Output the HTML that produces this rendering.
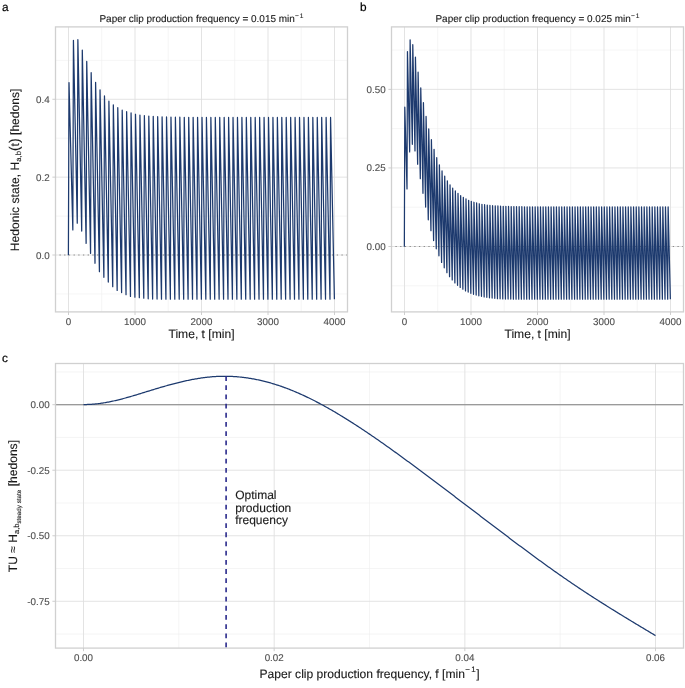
<!DOCTYPE html><html><head><meta charset="utf-8"><style>html,body{margin:0;padding:0;background:#fff}svg{display:block}</style></head><body><svg width="685" height="688" viewBox="0 0 685 688" font-family="Liberation Sans, sans-serif" text-rendering="geometricPrecision">
<rect width="685" height="688" fill="#fff"/>
<defs><filter id="bl" x="0" y="0" width="685" height="688" filterUnits="userSpaceOnUse" color-interpolation-filters="sRGB"><feGaussianBlur stdDeviation="0.35"/></filter></defs><g filter="url(#bl)"><rect width="685" height="688" fill="#fff"/>
<line x1="101.75" y1="26.9" x2="101.75" y2="311.9" stroke="#efefef" stroke-width="0.6"/>
<line x1="168.25" y1="26.9" x2="168.25" y2="311.9" stroke="#efefef" stroke-width="0.6"/>
<line x1="234.75" y1="26.9" x2="234.75" y2="311.9" stroke="#efefef" stroke-width="0.6"/>
<line x1="301.25" y1="26.9" x2="301.25" y2="311.9" stroke="#efefef" stroke-width="0.6"/>
<line x1="55.5" y1="293.93" x2="347.5" y2="293.93" stroke="#efefef" stroke-width="0.6"/>
<line x1="55.5" y1="216.07" x2="347.5" y2="216.07" stroke="#efefef" stroke-width="0.6"/>
<line x1="55.5" y1="138.21" x2="347.5" y2="138.21" stroke="#efefef" stroke-width="0.6"/>
<line x1="55.5" y1="60.35" x2="347.5" y2="60.35" stroke="#efefef" stroke-width="0.6"/>
<line x1="68.5" y1="26.9" x2="68.5" y2="311.9" stroke="#e0e0e0" stroke-width="0.9"/>
<line x1="135" y1="26.9" x2="135" y2="311.9" stroke="#e0e0e0" stroke-width="0.9"/>
<line x1="201.5" y1="26.9" x2="201.5" y2="311.9" stroke="#e0e0e0" stroke-width="0.9"/>
<line x1="268" y1="26.9" x2="268" y2="311.9" stroke="#e0e0e0" stroke-width="0.9"/>
<line x1="334.5" y1="26.9" x2="334.5" y2="311.9" stroke="#e0e0e0" stroke-width="0.9"/>
<line x1="55.5" y1="255" x2="347.5" y2="255" stroke="#e0e0e0" stroke-width="0.9"/>
<line x1="55.5" y1="177.14" x2="347.5" y2="177.14" stroke="#e0e0e0" stroke-width="0.9"/>
<line x1="55.5" y1="99.28" x2="347.5" y2="99.28" stroke="#e0e0e0" stroke-width="0.9"/>
<line x1="55.5" y1="255" x2="347.5" y2="255" stroke="#8a8a8a" stroke-width="1" stroke-dasharray="1.3 3.4" stroke-dashoffset="0.75"/>
<path d="M68.40,255.15 L69.00,82.56 L72.83,229.96 L73.43,40.36 L77.27,223.14 L77.87,39.66 L81.70,231.09 L82.30,50.05 L86.13,243.37 L86.73,61.44 L90.57,253.37 L91.17,72.64 L95.00,263.25 L95.60,82.36 L99.43,271.66 L100.03,89.76 L103.87,277.35 L104.47,95.96 L108.30,282.04 L108.90,101.23 L112.73,286.73 L113.33,104.76 L117.17,290.45 L117.77,107.67 L121.60,292.54 L122.20,110.15 L126.03,294.64 L126.63,111.66 L130.47,296.46 L131.07,112.94 L134.90,297.23 L135.50,114.25 L139.33,297.74 L139.93,115.02 L143.77,298.24 L144.37,115.61 L148.20,298.86 L148.80,116.05 L152.63,299.01 L153.23,116.38 L157.07,299.10 L157.67,116.64 L161.50,299.15 L162.10,116.83 L165.93,299.17 L166.53,116.97 L170.37,299.19 L170.97,117.08 L174.80,299.20 L175.40,117.17 L179.23,299.20 L179.83,117.23 L183.67,299.21 L184.27,117.28 L188.10,299.21 L188.70,117.32 L192.53,299.21 L193.13,117.35 L196.97,299.21 L197.57,117.37 L201.40,299.21 L202.00,117.38 L205.83,299.21 L206.43,117.39 L210.27,299.21 L210.87,117.40 L214.70,299.21 L215.30,117.41 L219.13,299.21 L219.73,117.42 L223.57,299.21 L224.17,117.42 L228.00,299.21 L228.60,117.42 L232.43,299.21 L233.03,117.43 L236.87,299.21 L237.47,117.43 L241.30,299.21 L241.90,117.43 L245.73,299.21 L246.33,117.43 L250.17,299.21 L250.77,117.43 L254.60,299.21 L255.20,117.43 L259.03,299.21 L259.63,117.43 L263.47,299.21 L264.07,117.43 L267.90,299.21 L268.50,117.43 L272.33,299.21 L272.93,117.43 L276.77,299.21 L277.37,117.43 L281.20,299.21 L281.80,117.43 L285.63,299.21 L286.23,117.43 L290.07,299.21 L290.67,117.43 L294.50,299.21 L295.10,117.43 L298.93,299.21 L299.53,117.43 L303.37,299.21 L303.97,117.43 L307.80,299.21 L308.40,117.43 L312.23,299.21 L312.83,117.43 L316.67,299.21 L317.27,117.43 L321.10,299.21 L321.70,117.43 L325.53,299.21 L326.13,117.43 L329.97,299.21 L330.57,117.43 L334.40,299.21" fill="none" stroke="#1d3a6e" stroke-width="1.25" stroke-linejoin="round" stroke-linecap="butt"/>
<rect x="55.5" y="26.9" width="292" height="285" fill="none" stroke="#d0d0d0" stroke-width="1.3"/>
<line x1="68.5" y1="311.9" x2="68.5" y2="315" stroke="#c8c8c8" stroke-width="0.9"/>
<line x1="135" y1="311.9" x2="135" y2="315" stroke="#c8c8c8" stroke-width="0.9"/>
<line x1="201.5" y1="311.9" x2="201.5" y2="315" stroke="#c8c8c8" stroke-width="0.9"/>
<line x1="268" y1="311.9" x2="268" y2="315" stroke="#c8c8c8" stroke-width="0.9"/>
<line x1="334.5" y1="311.9" x2="334.5" y2="315" stroke="#c8c8c8" stroke-width="0.9"/>
<line x1="52.4" y1="255" x2="55.5" y2="255" stroke="#c8c8c8" stroke-width="0.9"/>
<line x1="52.4" y1="177.14" x2="55.5" y2="177.14" stroke="#c8c8c8" stroke-width="0.9"/>
<line x1="52.4" y1="99.28" x2="55.5" y2="99.28" stroke="#c8c8c8" stroke-width="0.9"/>
<line x1="437.75" y1="26.9" x2="437.75" y2="311.9" stroke="#efefef" stroke-width="0.6"/>
<line x1="504.25" y1="26.9" x2="504.25" y2="311.9" stroke="#efefef" stroke-width="0.6"/>
<line x1="570.75" y1="26.9" x2="570.75" y2="311.9" stroke="#efefef" stroke-width="0.6"/>
<line x1="637.25" y1="26.9" x2="637.25" y2="311.9" stroke="#efefef" stroke-width="0.6"/>
<line x1="391.5" y1="285.79" x2="683.5" y2="285.79" stroke="#efefef" stroke-width="0.6"/>
<line x1="391.5" y1="207.21" x2="683.5" y2="207.21" stroke="#efefef" stroke-width="0.6"/>
<line x1="391.5" y1="128.64" x2="683.5" y2="128.64" stroke="#efefef" stroke-width="0.6"/>
<line x1="391.5" y1="50.06" x2="683.5" y2="50.06" stroke="#efefef" stroke-width="0.6"/>
<line x1="404.5" y1="26.9" x2="404.5" y2="311.9" stroke="#e0e0e0" stroke-width="0.9"/>
<line x1="471" y1="26.9" x2="471" y2="311.9" stroke="#e0e0e0" stroke-width="0.9"/>
<line x1="537.5" y1="26.9" x2="537.5" y2="311.9" stroke="#e0e0e0" stroke-width="0.9"/>
<line x1="604" y1="26.9" x2="604" y2="311.9" stroke="#e0e0e0" stroke-width="0.9"/>
<line x1="670.5" y1="26.9" x2="670.5" y2="311.9" stroke="#e0e0e0" stroke-width="0.9"/>
<line x1="391.5" y1="246.5" x2="683.5" y2="246.5" stroke="#e0e0e0" stroke-width="0.9"/>
<line x1="391.5" y1="167.93" x2="683.5" y2="167.93" stroke="#e0e0e0" stroke-width="0.9"/>
<line x1="391.5" y1="89.35" x2="683.5" y2="89.35" stroke="#e0e0e0" stroke-width="0.9"/>
<line x1="391.5" y1="246.5" x2="683.5" y2="246.5" stroke="#8a8a8a" stroke-width="1" stroke-dasharray="1.3 3.4" stroke-dashoffset="0.75"/>
<path d="M404.35,246.65 L404.80,107.17 L407.01,188.91 L407.46,51.53 L409.67,151.88 L410.12,39.86 L412.33,144.35 L412.78,44.66 L414.99,150.94 L415.44,57.11 L417.65,164.25 L418.10,72.24 L420.31,178.74 L420.76,87.87 L422.97,193.30 L423.42,102.62 L425.63,207.11 L426.08,116.42 L428.29,219.82 L428.74,128.97 L430.95,230.74 L431.40,139.74 L433.61,240.53 L434.06,149.34 L436.27,248.85 L436.72,157.66 L438.93,255.84 L439.38,164.84 L441.59,262.43 L442.04,170.93 L444.25,267.86 L444.70,176.04 L446.91,272.66 L447.36,180.85 L449.57,276.74 L450.02,184.86 L452.23,279.94 L452.68,188.06 L454.89,282.89 L455.34,190.95 L457.55,285.34 L458.00,193.34 L460.21,287.44 L460.66,195.56 L462.87,289.17 L463.32,197.35 L465.53,290.96 L465.98,198.76 L468.19,292.09 L468.64,200.36 L470.85,293.28 L471.30,201.37 L473.51,294.28 L473.96,202.25 L476.17,295.01 L476.62,202.94 L478.83,295.76 L479.28,203.75 L481.49,296.36 L481.94,204.26 L484.15,296.92 L484.60,204.66 L486.81,297.36 L487.26,205.04 L489.47,297.80 L489.92,205.35 L492.13,298.05 L492.58,205.64 L494.79,298.36 L495.24,205.86 L497.45,298.65 L497.90,205.95 L500.11,298.80 L500.56,206.14 L502.77,298.92 L503.22,206.26 L505.43,299.01 L505.88,206.36 L508.09,299.07 L508.54,206.45 L510.75,299.11 L511.20,206.52 L513.41,299.14 L513.86,206.59 L516.07,299.16 L516.52,206.64 L518.73,299.18 L519.18,206.69 L521.39,299.19 L521.84,206.73 L524.05,299.19 L524.50,206.76 L526.71,299.20 L527.16,206.79 L529.37,299.20 L529.82,206.81 L532.03,299.21 L532.48,206.83 L534.69,299.21 L535.14,206.85 L537.35,299.21 L537.80,206.87 L540.01,299.21 L540.46,206.88 L542.67,299.21 L543.12,206.89 L545.33,299.21 L545.78,206.90 L547.99,299.21 L548.44,206.91 L550.65,299.21 L551.10,206.92 L553.31,299.21 L553.76,206.92 L555.97,299.21 L556.42,206.93 L558.63,299.21 L559.08,206.93 L561.29,299.21 L561.74,206.93 L563.95,299.21 L564.40,206.94 L566.61,299.21 L567.06,206.94 L569.27,299.21 L569.72,206.94 L571.93,299.21 L572.38,206.94 L574.59,299.21 L575.04,206.95 L577.25,299.21 L577.70,206.95 L579.91,299.21 L580.36,206.95 L582.57,299.21 L583.02,206.95 L585.23,299.21 L585.68,206.95 L587.89,299.21 L588.34,206.95 L590.55,299.21 L591.00,206.95 L593.21,299.21 L593.66,206.95 L595.87,299.21 L596.32,206.95 L598.53,299.21 L598.98,206.95 L601.19,299.21 L601.64,206.95 L603.85,299.21 L604.30,206.95 L606.51,299.21 L606.96,206.95 L609.17,299.21 L609.62,206.95 L611.83,299.21 L612.28,206.95 L614.49,299.21 L614.94,206.95 L617.15,299.21 L617.60,206.95 L619.81,299.21 L620.26,206.95 L622.47,299.21 L622.92,206.95 L625.13,299.21 L625.58,206.95 L627.79,299.21 L628.24,206.95 L630.45,299.21 L630.90,206.95 L633.11,299.21 L633.56,206.95 L635.77,299.21 L636.22,206.95 L638.43,299.21 L638.88,206.95 L641.09,299.21 L641.54,206.95 L643.75,299.21 L644.20,206.95 L646.41,299.21 L646.86,206.95 L649.07,299.21 L649.52,206.95 L651.73,299.21 L652.18,206.95 L654.39,299.21 L654.84,206.95 L657.05,299.21 L657.50,206.95 L659.71,299.21 L660.16,206.95 L662.37,299.21 L662.82,206.95 L665.03,299.21 L665.48,206.95 L667.69,299.21 L668.14,206.95 L670.35,299.21" fill="none" stroke="#1d3a6e" stroke-width="1.25" stroke-linejoin="round" stroke-linecap="butt"/>
<rect x="391.5" y="26.9" width="292" height="285" fill="none" stroke="#d0d0d0" stroke-width="1.3"/>
<line x1="404.5" y1="311.9" x2="404.5" y2="315" stroke="#c8c8c8" stroke-width="0.9"/>
<line x1="471" y1="311.9" x2="471" y2="315" stroke="#c8c8c8" stroke-width="0.9"/>
<line x1="537.5" y1="311.9" x2="537.5" y2="315" stroke="#c8c8c8" stroke-width="0.9"/>
<line x1="604" y1="311.9" x2="604" y2="315" stroke="#c8c8c8" stroke-width="0.9"/>
<line x1="670.5" y1="311.9" x2="670.5" y2="315" stroke="#c8c8c8" stroke-width="0.9"/>
<line x1="388.4" y1="246.5" x2="391.5" y2="246.5" stroke="#c8c8c8" stroke-width="0.9"/>
<line x1="388.4" y1="167.93" x2="391.5" y2="167.93" stroke="#c8c8c8" stroke-width="0.9"/>
<line x1="388.4" y1="89.35" x2="391.5" y2="89.35" stroke="#c8c8c8" stroke-width="0.9"/>
<line x1="178.83" y1="363.5" x2="178.83" y2="648.1" stroke="#efefef" stroke-width="0.6"/>
<line x1="369.5" y1="363.5" x2="369.5" y2="648.1" stroke="#efefef" stroke-width="0.6"/>
<line x1="560.16" y1="363.5" x2="560.16" y2="648.1" stroke="#efefef" stroke-width="0.6"/>
<line x1="55.5" y1="371.94" x2="683.5" y2="371.94" stroke="#efefef" stroke-width="0.6"/>
<line x1="55.5" y1="437.46" x2="683.5" y2="437.46" stroke="#efefef" stroke-width="0.6"/>
<line x1="55.5" y1="502.99" x2="683.5" y2="502.99" stroke="#efefef" stroke-width="0.6"/>
<line x1="55.5" y1="568.51" x2="683.5" y2="568.51" stroke="#efefef" stroke-width="0.6"/>
<line x1="55.5" y1="634.04" x2="683.5" y2="634.04" stroke="#efefef" stroke-width="0.6"/>
<line x1="83.5" y1="363.5" x2="83.5" y2="648.1" stroke="#e0e0e0" stroke-width="0.9"/>
<line x1="274.17" y1="363.5" x2="274.17" y2="648.1" stroke="#e0e0e0" stroke-width="0.9"/>
<line x1="464.83" y1="363.5" x2="464.83" y2="648.1" stroke="#e0e0e0" stroke-width="0.9"/>
<line x1="655.5" y1="363.5" x2="655.5" y2="648.1" stroke="#e0e0e0" stroke-width="0.9"/>
<line x1="55.5" y1="404.7" x2="683.5" y2="404.7" stroke="#e0e0e0" stroke-width="0.9"/>
<line x1="55.5" y1="470.23" x2="683.5" y2="470.23" stroke="#e0e0e0" stroke-width="0.9"/>
<line x1="55.5" y1="535.75" x2="683.5" y2="535.75" stroke="#e0e0e0" stroke-width="0.9"/>
<line x1="55.5" y1="601.27" x2="683.5" y2="601.27" stroke="#e0e0e0" stroke-width="0.9"/>
<line x1="55.5" y1="404.7" x2="683.5" y2="404.7" stroke="#808080" stroke-width="1.1"/>
<path d="M83.50,404.53 L84.50,404.53 L85.50,404.53 L86.50,404.52 L87.50,404.49 L88.50,404.46 L89.50,404.42 L90.50,404.36 L91.50,404.30 L92.50,404.23 L93.50,404.15 L94.50,404.07 L95.50,403.97 L96.50,403.87 L97.50,403.75 L98.50,403.63 L99.50,403.50 L100.50,403.37 L101.50,403.23 L102.50,403.08 L103.50,402.92 L104.50,402.75 L105.50,402.58 L106.50,402.40 L107.50,402.22 L108.50,402.03 L109.50,401.83 L110.50,401.63 L111.50,401.42 L112.50,401.21 L113.50,400.99 L114.50,400.76 L115.50,400.53 L116.50,400.30 L117.50,400.05 L118.50,399.81 L119.50,399.56 L120.50,399.31 L121.50,399.05 L122.50,398.79 L123.50,398.52 L124.50,398.25 L125.50,397.98 L126.50,397.70 L127.50,397.42 L128.50,397.14 L129.50,396.85 L130.50,396.57 L131.50,396.27 L132.50,395.98 L133.50,395.69 L134.50,395.39 L135.50,395.09 L136.50,394.79 L137.50,394.48 L138.50,394.18 L139.50,393.87 L140.50,393.57 L141.50,393.26 L142.50,392.95 L143.50,392.64 L144.50,392.33 L145.50,392.02 L146.50,391.71 L147.50,391.40 L148.50,391.10 L149.50,390.79 L150.50,390.48 L151.50,390.17 L152.50,389.86 L153.50,389.56 L154.50,389.25 L155.50,388.95 L156.50,388.65 L157.50,388.35 L158.50,388.05 L159.50,387.75 L160.50,387.46 L161.50,387.16 L162.50,386.87 L163.50,386.58 L164.50,386.29 L165.50,386.01 L166.50,385.73 L167.50,385.45 L168.50,385.17 L169.50,384.89 L170.50,384.62 L171.50,384.35 L172.50,384.09 L173.50,383.82 L174.50,383.56 L175.50,383.30 L176.50,383.05 L177.50,382.80 L178.50,382.55 L179.50,382.31 L180.50,382.07 L181.50,381.83 L182.50,381.60 L183.50,381.37 L184.50,381.14 L185.50,380.92 L186.50,380.70 L187.50,380.49 L188.50,380.28 L189.50,380.07 L190.50,379.87 L191.50,379.68 L192.50,379.48 L193.50,379.30 L194.50,379.11 L195.50,378.94 L196.50,378.76 L197.50,378.60 L198.50,378.43 L199.50,378.28 L200.50,378.13 L201.50,377.98 L202.50,377.84 L203.50,377.70 L204.50,377.57 L205.50,377.45 L206.50,377.33 L207.50,377.22 L208.50,377.11 L209.50,377.01 L210.50,376.91 L211.50,376.82 L212.50,376.74 L213.50,376.67 L214.50,376.60 L215.50,376.53 L216.50,376.48 L217.50,376.43 L218.50,376.38 L219.50,376.35 L220.50,376.32 L221.50,376.30 L222.50,376.28 L223.50,376.27 L224.50,376.27 L225.50,376.27 L226.50,376.28 L227.50,376.30 L228.50,376.32 L229.50,376.35 L230.50,376.39 L231.50,376.43 L232.50,376.48 L233.50,376.53 L234.50,376.60 L235.50,376.66 L236.50,376.74 L237.50,376.82 L238.50,376.91 L239.50,377.00 L240.50,377.10 L241.50,377.21 L242.50,377.32 L243.50,377.44 L244.50,377.57 L245.50,377.70 L246.50,377.84 L247.50,377.98 L248.50,378.13 L249.50,378.29 L250.50,378.45 L251.50,378.62 L252.50,378.79 L253.50,378.98 L254.50,379.16 L255.50,379.36 L256.50,379.56 L257.50,379.76 L258.50,379.97 L259.50,380.19 L260.50,380.41 L261.50,380.64 L262.50,380.88 L263.50,381.12 L264.50,381.37 L265.50,381.62 L266.50,381.88 L267.50,382.14 L268.50,382.42 L269.50,382.69 L270.50,382.97 L271.50,383.26 L272.50,383.56 L273.50,383.86 L274.50,384.16 L275.50,384.48 L276.50,384.79 L277.50,385.12 L278.50,385.44 L279.50,385.78 L280.50,386.12 L281.50,386.46 L282.50,386.82 L283.50,387.17 L284.50,387.54 L285.50,387.90 L286.50,388.28 L287.50,388.66 L288.50,389.04 L289.50,389.43 L290.50,389.83 L291.50,390.23 L292.50,390.63 L293.50,391.04 L294.50,391.46 L295.50,391.88 L296.50,392.31 L297.50,392.74 L298.50,393.18 L299.50,393.62 L300.50,394.06 L301.50,394.52 L302.50,394.97 L303.50,395.43 L304.50,395.90 L305.50,396.37 L306.50,396.84 L307.50,397.32 L308.50,397.80 L309.50,398.29 L310.50,398.79 L311.50,399.28 L312.50,399.78 L313.50,400.29 L314.50,400.80 L315.50,401.31 L316.50,401.83 L317.50,402.35 L318.50,402.88 L319.50,403.41 L320.50,403.95 L321.50,404.48 L322.50,405.03 L323.50,405.57 L324.50,406.12 L325.50,406.68 L326.50,407.23 L327.50,407.80 L328.50,408.36 L329.50,408.93 L330.50,409.50 L331.50,410.08 L332.50,410.65 L333.50,411.24 L334.50,411.82 L335.50,412.41 L336.50,413.00 L337.50,413.60 L338.50,414.20 L339.50,414.80 L340.50,415.41 L341.50,416.01 L342.50,416.62 L343.50,417.24 L344.50,417.86 L345.50,418.47 L346.50,419.10 L347.50,419.72 L348.50,420.35 L349.50,420.98 L350.50,421.62 L351.50,422.25 L352.50,422.89 L353.50,423.53 L354.50,424.18 L355.50,424.82 L356.50,425.47 L357.50,426.12 L358.50,426.77 L359.50,427.43 L360.50,428.09 L361.50,428.75 L362.50,429.41 L363.50,430.08 L364.50,430.75 L365.50,431.42 L366.50,432.09 L367.50,432.76 L368.50,433.44 L369.50,434.12 L370.50,434.80 L371.50,435.48 L372.50,436.16 L373.50,436.85 L374.50,437.54 L375.50,438.23 L376.50,438.92 L377.50,439.61 L378.50,440.31 L379.50,441.01 L380.50,441.70 L381.50,442.41 L382.50,443.11 L383.50,443.81 L384.50,444.52 L385.50,445.23 L386.50,445.93 L387.50,446.65 L388.50,447.36 L389.50,448.07 L390.50,448.79 L391.50,449.50 L392.50,450.22 L393.50,450.94 L394.50,451.66 L395.50,452.38 L396.50,453.11 L397.50,453.83 L398.50,454.56 L399.50,455.28 L400.50,456.01 L401.50,456.74 L402.50,457.47 L403.50,458.20 L404.50,458.93 L405.50,459.67 L406.50,460.40 L407.50,461.14 L408.50,461.87 L409.50,462.61 L410.50,463.35 L411.50,464.09 L412.50,464.83 L413.50,465.57 L414.50,466.31 L415.50,467.05 L416.50,467.79 L417.50,468.54 L418.50,469.28 L419.50,470.03 L420.50,470.77 L421.50,471.52 L422.50,472.26 L423.50,473.01 L424.50,473.76 L425.50,474.51 L426.50,475.25 L427.50,476.00 L428.50,476.75 L429.50,477.50 L430.50,478.25 L431.50,479.00 L432.50,479.75 L433.50,480.50 L434.50,481.26 L435.50,482.01 L436.50,482.76 L437.50,483.51 L438.50,484.27 L439.50,485.02 L440.50,485.78 L441.50,486.53 L442.50,487.29 L443.50,488.04 L444.50,488.80 L445.50,489.55 L446.50,490.31 L447.50,491.07 L448.50,491.82 L449.50,492.58 L450.50,493.34 L451.50,494.09 L452.50,494.85 L453.50,495.61 L454.50,496.37 L455.50,497.13 L456.50,497.89 L457.50,498.64 L458.50,499.40 L459.50,500.16 L460.50,500.92 L461.50,501.68 L462.50,502.44 L463.50,503.20 L464.50,503.96 L465.50,504.72 L466.50,505.48 L467.50,506.24 L468.50,507.00 L469.50,507.76 L470.50,508.52 L471.50,509.29 L472.50,510.05 L473.50,510.81 L474.50,511.57 L475.50,512.33 L476.50,513.09 L477.50,513.85 L478.50,514.61 L479.50,515.37 L480.50,516.13 L481.50,516.89 L482.50,517.65 L483.50,518.42 L484.50,519.18 L485.50,519.94 L486.50,520.70 L487.50,521.46 L488.50,522.22 L489.50,522.98 L490.50,523.74 L491.50,524.50 L492.50,525.26 L493.50,526.02 L494.50,526.78 L495.50,527.54 L496.50,528.29 L497.50,529.05 L498.50,529.81 L499.50,530.57 L500.50,531.33 L501.50,532.08 L502.50,532.84 L503.50,533.60 L504.50,534.35 L505.50,535.11 L506.50,535.86 L507.50,536.62 L508.50,537.37 L509.50,538.13 L510.50,538.88 L511.50,539.63 L512.50,540.38 L513.50,541.13 L514.50,541.88 L515.50,542.63 L516.50,543.38 L517.50,544.13 L518.50,544.88 L519.50,545.63 L520.50,546.37 L521.50,547.12 L522.50,547.86 L523.50,548.61 L524.50,549.35 L525.50,550.09 L526.50,550.83 L527.50,551.58 L528.50,552.31 L529.50,553.05 L530.50,553.79 L531.50,554.53 L532.50,555.26 L533.50,556.00 L534.50,556.73 L535.50,557.47 L536.50,558.20 L537.50,558.93 L538.50,559.66 L539.50,560.39 L540.50,561.11 L541.50,561.84 L542.50,562.56 L543.50,563.29 L544.50,564.01 L545.50,564.73 L546.50,565.45 L547.50,566.17 L548.50,566.89 L549.50,567.60 L550.50,568.32 L551.50,569.03 L552.50,569.74 L553.50,570.45 L554.50,571.16 L555.50,571.87 L556.50,572.57 L557.50,573.28 L558.50,573.98 L559.50,574.68 L560.50,575.38 L561.50,576.08 L562.50,576.78 L563.50,577.47 L564.50,578.16 L565.50,578.86 L566.50,579.55 L567.50,580.23 L568.50,580.92 L569.50,581.61 L570.50,582.29 L571.50,582.97 L572.50,583.65 L573.50,584.33 L574.50,585.00 L575.50,585.68 L576.50,586.35 L577.50,587.02 L578.50,587.69 L579.50,588.36 L580.50,589.02 L581.50,589.68 L582.50,590.35 L583.50,591.01 L584.50,591.66 L585.50,592.32 L586.50,592.98 L587.50,593.63 L588.50,594.28 L589.50,594.93 L590.50,595.58 L591.50,596.23 L592.50,596.88 L593.50,597.52 L594.50,598.16 L595.50,598.81 L596.50,599.45 L597.50,600.09 L598.50,600.72 L599.50,601.36 L600.50,602.00 L601.50,602.63 L602.50,603.26 L603.50,603.89 L604.50,604.52 L605.50,605.15 L606.50,605.78 L607.50,606.41 L608.50,607.04 L609.50,607.66 L610.50,608.28 L611.50,608.91 L612.50,609.53 L613.50,610.15 L614.50,610.77 L615.50,611.39 L616.50,612.00 L617.50,612.62 L618.50,613.24 L619.50,613.85 L620.50,614.47 L621.50,615.08 L622.50,615.69 L623.50,616.30 L624.50,616.92 L625.50,617.53 L626.50,618.14 L627.50,618.74 L628.50,619.35 L629.50,619.96 L630.50,620.57 L631.50,621.17 L632.50,621.78 L633.50,622.38 L634.50,622.99 L635.50,623.59 L636.50,624.20 L637.50,624.80 L638.50,625.40 L639.50,626.01 L640.50,626.61 L641.50,627.21 L642.50,627.81 L643.50,628.41 L644.50,629.01 L645.50,629.61 L646.50,630.21 L647.50,630.81 L648.50,631.41 L649.50,632.01 L650.50,632.61 L651.50,633.21 L652.50,633.81 L653.50,634.41 L654.50,635.00 L655.50,635.60" fill="none" stroke="#1d3a6e" stroke-width="1.25" stroke-linejoin="round"/>
<line x1="226.1" y1="376.1" x2="226.1" y2="648.1" stroke="#2a2a8c" stroke-width="1.6" stroke-dasharray="4.8 4.39"/>
<rect x="55.5" y="363.5" width="628" height="284.6" fill="none" stroke="#d0d0d0" stroke-width="1.3"/>
<line x1="83.5" y1="648.1" x2="83.5" y2="651.2" stroke="#c8c8c8" stroke-width="0.9"/>
<line x1="274.17" y1="648.1" x2="274.17" y2="651.2" stroke="#c8c8c8" stroke-width="0.9"/>
<line x1="464.83" y1="648.1" x2="464.83" y2="651.2" stroke="#c8c8c8" stroke-width="0.9"/>
<line x1="655.5" y1="648.1" x2="655.5" y2="651.2" stroke="#c8c8c8" stroke-width="0.9"/>
<line x1="52.4" y1="404.7" x2="55.5" y2="404.7" stroke="#c8c8c8" stroke-width="0.9"/>
<line x1="52.4" y1="470.23" x2="55.5" y2="470.23" stroke="#c8c8c8" stroke-width="0.9"/>
<line x1="52.4" y1="535.75" x2="55.5" y2="535.75" stroke="#c8c8c8" stroke-width="0.9"/>
<line x1="52.4" y1="601.27" x2="55.5" y2="601.27" stroke="#c8c8c8" stroke-width="0.9"/>
<text x="68.5" y="324.6" font-size="9.8" fill="#4d4d4d" text-anchor="middle"  stroke="#4d4d4d" stroke-width="0.12">0</text>
<text x="135" y="324.6" font-size="9.8" fill="#4d4d4d" text-anchor="middle"  stroke="#4d4d4d" stroke-width="0.12">1000</text>
<text x="201.5" y="324.6" font-size="9.8" fill="#4d4d4d" text-anchor="middle"  stroke="#4d4d4d" stroke-width="0.12">2000</text>
<text x="268" y="324.6" font-size="9.8" fill="#4d4d4d" text-anchor="middle"  stroke="#4d4d4d" stroke-width="0.12">3000</text>
<text x="334.5" y="324.6" font-size="9.8" fill="#4d4d4d" text-anchor="middle"  stroke="#4d4d4d" stroke-width="0.12">4000</text>
<text x="49.7" y="258.5" font-size="9.8" fill="#4d4d4d" text-anchor="end"  stroke="#4d4d4d" stroke-width="0.12">0.0</text>
<text x="49.7" y="180.64" font-size="9.8" fill="#4d4d4d" text-anchor="end"  stroke="#4d4d4d" stroke-width="0.12">0.2</text>
<text x="49.7" y="102.78" font-size="9.8" fill="#4d4d4d" text-anchor="end"  stroke="#4d4d4d" stroke-width="0.12">0.4</text>
<text x="404.5" y="324.6" font-size="9.8" fill="#4d4d4d" text-anchor="middle"  stroke="#4d4d4d" stroke-width="0.12">0</text>
<text x="471" y="324.6" font-size="9.8" fill="#4d4d4d" text-anchor="middle"  stroke="#4d4d4d" stroke-width="0.12">1000</text>
<text x="537.5" y="324.6" font-size="9.8" fill="#4d4d4d" text-anchor="middle"  stroke="#4d4d4d" stroke-width="0.12">2000</text>
<text x="604" y="324.6" font-size="9.8" fill="#4d4d4d" text-anchor="middle"  stroke="#4d4d4d" stroke-width="0.12">3000</text>
<text x="670.5" y="324.6" font-size="9.8" fill="#4d4d4d" text-anchor="middle"  stroke="#4d4d4d" stroke-width="0.12">4000</text>
<text x="385.7" y="250" font-size="9.8" fill="#4d4d4d" text-anchor="end"  stroke="#4d4d4d" stroke-width="0.12">0.00</text>
<text x="385.7" y="171.43" font-size="9.8" fill="#4d4d4d" text-anchor="end"  stroke="#4d4d4d" stroke-width="0.12">0.25</text>
<text x="385.7" y="92.85" font-size="9.8" fill="#4d4d4d" text-anchor="end"  stroke="#4d4d4d" stroke-width="0.12">0.50</text>
<text x="83.5" y="661.4" font-size="9.8" fill="#4d4d4d" text-anchor="middle"  stroke="#4d4d4d" stroke-width="0.12">0.00</text>
<text x="274.17" y="661.4" font-size="9.8" fill="#4d4d4d" text-anchor="middle"  stroke="#4d4d4d" stroke-width="0.12">0.02</text>
<text x="464.83" y="661.4" font-size="9.8" fill="#4d4d4d" text-anchor="middle"  stroke="#4d4d4d" stroke-width="0.12">0.04</text>
<text x="655.5" y="661.4" font-size="9.8" fill="#4d4d4d" text-anchor="middle"  stroke="#4d4d4d" stroke-width="0.12">0.06</text>
<text x="49.7" y="408.2" font-size="9.8" fill="#4d4d4d" text-anchor="end"  stroke="#4d4d4d" stroke-width="0.12">0.00</text>
<text x="49.7" y="473.73" font-size="9.8" fill="#4d4d4d" text-anchor="end"  stroke="#4d4d4d" stroke-width="0.12">-0.25</text>
<text x="49.7" y="539.25" font-size="9.8" fill="#4d4d4d" text-anchor="end"  stroke="#4d4d4d" stroke-width="0.12">-0.50</text>
<text x="49.7" y="604.77" font-size="9.8" fill="#4d4d4d" text-anchor="end"  stroke="#4d4d4d" stroke-width="0.12">-0.75</text>
<text x="201.5" y="22.2" font-size="9.98" fill="#1a1a1a" text-anchor="middle" stroke="#1a1a1a" stroke-width="0.12">Paper clip production frequency = 0.015 min<tspan font-size="6.59" dy="-4.4" dx="0.3">−</tspan><tspan font-size="6.59" dx="0.9">1</tspan></text>
<text x="537.5" y="22.2" font-size="9.98" fill="#1a1a1a" text-anchor="middle" stroke="#1a1a1a" stroke-width="0.12">Paper clip production frequency = 0.025 min<tspan font-size="6.59" dy="-4.4" dx="0.3">−</tspan><tspan font-size="6.59" dx="0.9">1</tspan></text>
<text x="201.5" y="338" font-size="12.1" fill="#1a1a1a" text-anchor="middle"  stroke="#1a1a1a" stroke-width="0.12">Time, t [min]</text>
<text x="537.5" y="338" font-size="12.1" fill="#1a1a1a" text-anchor="middle"  stroke="#1a1a1a" stroke-width="0.12">Time, t [min]</text>
<text x="369.5" y="677.8" font-size="12.1" fill="#1a1a1a" text-anchor="middle" stroke="#1a1a1a" stroke-width="0.12">Paper clip production frequency, f [min<tspan font-size="7.99" dy="-5.4" dx="0.4">−</tspan><tspan font-size="7.99" dx="1.3">1</tspan><tspan dy="5.4" dx="0.4">]</tspan></text>
<text transform="translate(18.9,169.9) rotate(-90)" font-size="12.1" fill="#1a1a1a" text-anchor="middle" stroke="#1a1a1a" stroke-width="0.12">Hedonic state, H<tspan font-size="7.74" dy="1.9">a,b</tspan><tspan font-size="14" dy="-1.9">(</tspan><tspan>t</tspan><tspan font-size="14">)</tspan><tspan> [hedons]</tspan></text>
<text transform="translate(17.0,506.1) rotate(-90)" font-size="12.1" fill="#1a1a1a" text-anchor="middle" stroke="#1a1a1a" stroke-width="0.12">TU ≈ H<tspan font-size="7.50" dy="1.9">a,b</tspan><tspan font-size="6.29" dy="2.2">steady state</tspan><tspan dy="-4.10"> [hedons]</tspan></text>
<text x="1.9" y="11.1" font-size="11.8" fill="#000" text-anchor="start" font-weight="normal" stroke="#000" stroke-width="0.2">a</text>
<text x="359.9" y="11.1" font-size="11.8" fill="#000" text-anchor="start" font-weight="normal" stroke="#000" stroke-width="0.2">b</text>
<text x="1.9" y="362" font-size="11.8" fill="#000" text-anchor="start" font-weight="normal" stroke="#000" stroke-width="0.2">c</text>
<text x="235.2" y="498.6" font-size="12.0" fill="#1a1a1a" stroke="#1a1a1a" stroke-width="0.12">Optimal</text>
<text x="235.2" y="511.6" font-size="12.0" fill="#1a1a1a" stroke="#1a1a1a" stroke-width="0.12">production</text>
<text x="235.2" y="524.2" font-size="12.0" fill="#1a1a1a" stroke="#1a1a1a" stroke-width="0.12">frequency</text>
</g>
</svg></body></html>
